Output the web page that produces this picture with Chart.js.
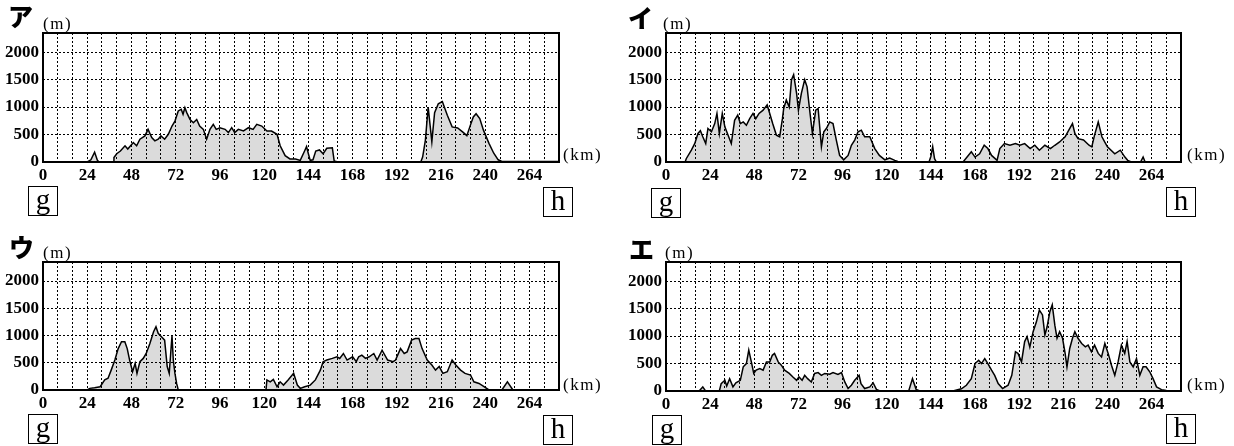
<!DOCTYPE html>
<html><head><meta charset="utf-8">
<script src="https://cdn.jsdelivr.net/npm/chart.js@4"></script>
<style>
body{margin:0;background:#fff;width:1234px;height:446px;position:relative;overflow:hidden;font-family:'Liberation Serif',serif;color:#000;}
canvas{position:absolute;}
.t{position:absolute;white-space:nowrap;line-height:1;}
.title{font-family:'Noto Sans CJK JP',sans-serif;font-weight:900;font-size:25px;}
.unit{font-size:17px;letter-spacing:1.5px;}
.box{position:absolute;width:30px;height:30px;border:1.5px solid #000;box-sizing:border-box;font-size:29px;line-height:24px;text-align:center;}
</style></head><body>
<canvas id="cA" width="617" height="223" style="left:0;top:0"></canvas>
<canvas id="cI" width="617" height="223" style="left:617px;top:0"></canvas>
<canvas id="cU" width="617" height="223" style="left:0;top:223px"></canvas>
<canvas id="cE" width="617" height="223" style="left:617px;top:223px"></canvas>

<div class="t title" style="left:8px;top:3px">ア</div>
<div class="t title" style="left:628px;top:5px">イ</div>
<div class="t title" style="left:9px;top:234px">ウ</div>
<div class="t title" style="left:629px;top:236px">エ</div>

<div class="t unit" style="left:43px;top:15px">(m)</div>
<div class="t unit" style="left:663px;top:15px">(m)</div>
<div class="t unit" style="left:43px;top:244px">(m)</div>
<div class="t unit" style="left:665px;top:244px">(m)</div>

<div class="t unit" style="left:563px;top:146px">(km)</div>
<div class="t unit" style="left:1187px;top:146px">(km)</div>
<div class="t unit" style="left:563px;top:376px">(km)</div>
<div class="t unit" style="left:1187px;top:376px">(km)</div>

<div class="box" style="left:28px;top:186px">g</div>
<div class="box" style="left:543px;top:187px">h</div>
<div class="box" style="left:651px;top:188px">g</div>
<div class="box" style="left:1166px;top:187px">h</div>
<div class="box" style="left:28px;top:414px">g</div>
<div class="box" style="left:543px;top:415px">h</div>
<div class="box" style="left:652px;top:415px">g</div>
<div class="box" style="left:1166px;top:414px">h</div>

<script>
// ---- axes ----
const kmGrid = [0,8,16,24,32,40,48,56,64,72,80,88,96,104,112,120,128,136,144,152,160,168,176,184,192,200,208,216,224,232,240,248,256,264,272,280];
const kmLabels = [0,24,48,72,96,120,144,168,192,216,240,264];
const elevTicks = [0,500,1000,1500,2000];
const kmMax = 280;
const elevMax = 2350;

// ---- ア ----
const aKm = [0,24,26,28,29.5,30.5,38,38.5,40,42,44.5,46,49,50.8,52.6,55.3,57,59,60.7,62.5,64,66,68,70,71.6,73.4,75,76,77,78,79.8,81.6,83.4,85,87,88.8,90.6,92.4,94,96,98.8,100.6,102.4,104,106,108.8,111.5,114,116,118.7,121.5,124,127,128.7,131.4,134,137,139.6,142,143,144,145,146.5,148,150,152,154,157,158,160,205,206,207.5,209,211,212.5,214.5,216.7,219.4,222,225,228,230,231.6,233.5,235,237,239,242,244.6,247,249,280];
const aM  = [0,0,40,180,30,0,0,80,150,200,295,235,355,295,415,475,595,445,385,415,475,415,505,655,745,930,960,870,990,900,775,715,775,655,595,415,595,685,595,625,595,535,625,535,595,565,625,595,685,655,565,565,505,295,115,55,55,30,205,280,150,30,40,200,220,150,250,260,20,0,0,90,400,1000,370,900,1060,1100,850,640,620,540,480,640,820,880,790,580,340,160,40,10,10];

// ---- イ ----
const iKm = [0,9,10.5,11,13.8,15.6,17.4,18.7,20,21.6,22.8,24.7,26.5,27.7,29,30.6,32,33.7,35.5,37.3,39,40.4,42,43.7,45.5,47.3,48.8,50.6,52.8,55,56.4,58,60,61.8,63.3,64,65.4,67,68.2,69.4,71,72,73.6,75.4,76.7,78,79.6,81.4,82.7,84.5,85.8,87.2,89,90.8,92.6,94.4,96.6,99,100.8,102.6,104.4,106.2,108,110.8,113.5,116,119,121.6,124.4,126,143,144,145,146,147,161.5,166,168,170.5,173,175,177,180,181.5,184,187,190,192.4,195,198,200.5,203,206,209,211.4,214,217,219,221,222.3,224,227,230,231.5,233,235,237,238.5,240,244,247,249.5,251,253,258,259.4,260.5,280];
const iM  = [0,0,10,60,215,335,520,570,460,335,610,550,700,885,520,885,640,490,335,760,855,700,730,670,790,885,790,885,945,1040,885,700,490,460,790,975,1130,1000,1495,1590,1250,945,1250,1500,1370,975,520,945,975,275,550,610,730,700,400,120,40,120,305,400,550,580,460,460,245,120,40,70,30,10,0,100,280,60,0,0,185,90,150,305,245,120,30,245,335,305,335,305,335,245,305,215,305,245,305,365,460,580,700,520,425,400,305,275,490,730,460,365,275,150,215,90,30,0,0,90,0,0];

// ---- ウ ----
const uKm = [0,24,25.4,28,31,33.5,35.3,37,39,40.8,42.6,44.4,45.7,47,48.6,50,51,52.6,54.4,56,58,60,61.3,62.5,64.4,66,67.4,68.5,70,70.7,71.6,72.5,73.4,121,121.5,123.3,125,127,128.7,130.5,133,136,138,139.6,142,145,147.8,150.5,152,154,157,159.5,161,163,165,168,170,171.3,173,175,177,179.5,181.3,184,187,190,191.3,194,196,197.6,200,202,204,205.7,208.5,211,213,215,217,219.4,222,224,226.6,229,232,233.8,236.6,239.3,242,249,252,255,280];
const uM  = [0,0,30,40,60,185,215,365,550,760,885,885,760,550,335,490,305,520,580,670,855,1070,1160,1040,975,915,430,305,1000,550,305,120,0,0,185,150,195,60,150,90,185,305,90,30,60,90,185,365,520,550,580,610,580,670,550,610,520,610,640,580,610,670,550,730,550,520,550,760,670,700,915,945,945,760,550,460,365,430,305,335,550,460,365,305,275,150,120,60,0,0,150,0,0];

// ---- エ ----
const eKm = [0,18,20,21.5,29,30,32,33,34.6,36.4,38,40.4,42,43.7,45,46.4,47.7,49,51,52.8,54.6,56.4,57.8,59,61,62.7,64.5,67,69,71,72.3,74,75.4,77,79,80.8,82.7,84.5,86.3,89,90.8,93.5,95.4,97.2,99,100.8,102.6,105,106,108,110.8,112.6,114.4,116,132,134,136,138,156,160.6,163.3,166,168,170,171.5,173.3,175,177,178.7,180.6,183,186,188,190,191.4,193.3,195,196.3,197.8,199.6,201.4,203,204.7,206,207.2,208.7,210,211.4,212.6,214,215.6,217,218,219.5,221,222.3,224,226,228,229.5,231.3,233,235,236.8,238.6,240.4,242.2,244,245.8,247.6,249.4,250.7,252.2,254,255.8,257.6,259.4,261,263,264.8,266.7,269.4,272,280];
const eM  = [0,0,75,0,0,135,195,90,225,75,150,195,440,500,745,530,320,380,410,380,530,530,650,685,530,470,380,320,255,195,255,195,285,225,165,320,335,285,320,305,335,300,335,165,45,105,195,285,135,45,75,150,30,5,5,225,30,0,0,40,105,225,500,560,500,590,500,380,285,135,45,105,285,715,685,530,900,990,800,1080,1260,1475,1385,1020,1170,1445,1570,1200,960,1080,960,685,440,775,960,1080,960,865,805,835,715,835,685,620,865,685,470,285,530,835,685,900,530,440,590,285,440,440,350,225,75,25,10,0];

const frame = {id:'frame', afterDraw(c){
  const {ctx, chartArea:a} = c;
  ctx.save(); ctx.strokeStyle='#000'; ctx.lineWidth=2;
  ctx.strokeRect(a.left, a.top, a.right-a.left, a.bottom-a.top);
  ctx.restore();
}};

const tickFont = {family:'Liberation Serif', size:17, weight:'bold'};

function makeChart(id, kms, vals, area){
  const W = 617, H = 223;
  return new Chart(document.getElementById(id), {
    type:'line',
    data:{datasets:[{
      data: kms.map((k,i)=>({x:k, y:vals[i]})),
      borderColor:'#000', borderWidth:1.5, backgroundColor:'rgba(0,0,0,0.14)',
      fill:'origin', pointRadius:0, tension:0
    }]},
    options:{
      responsive:false, animation:false, devicePixelRatio:1,
      layout:{padding:{left:0, top:area.top, right:W-area.right, bottom:0}},
      plugins:{legend:{display:false}, tooltip:{enabled:false}},
      scales:{
        x:{type:'linear', min:0, max:kmMax,
          afterBuildTicks:s=>{s.ticks = kmGrid.map(v=>({value:v}));},
          afterFit:s=>{s.height = H-area.bottom;},
          ticks:{autoSkip:false, maxRotation:0, padding:3, font:tickFont, color:'#000',
            callback:v=>kmLabels.includes(v)?String(v):''},
          grid:{color:'#000', lineWidth:1, drawTicks:false},
          border:{display:false, dash:[2,2]}
        },
        y:{type:'linear', min:0, max:elevMax,
          afterBuildTicks:s=>{s.ticks = elevTicks.map(v=>({value:v}));},
          afterFit:s=>{s.width = area.left;},
          ticks:{padding:4, font:tickFont, color:'#000', callback:v=>String(v)},
          grid:{color:'#000', lineWidth:1, drawTicks:false},
          border:{display:false, dash:[2,2]}
        }
      }
    },
    plugins:[frame]
  });
}

makeChart('cA', aKm, aM, {left:43, top:33, right:559, bottom:162});
makeChart('cI', iKm, iM, {left:49, top:33, right:564, bottom:162});
makeChart('cU', uKm, uM, {left:43, top:39, right:559, bottom:167});
makeChart('cE', eKm, eM, {left:49, top:39, right:564, bottom:168});
</script>
</body></html>
